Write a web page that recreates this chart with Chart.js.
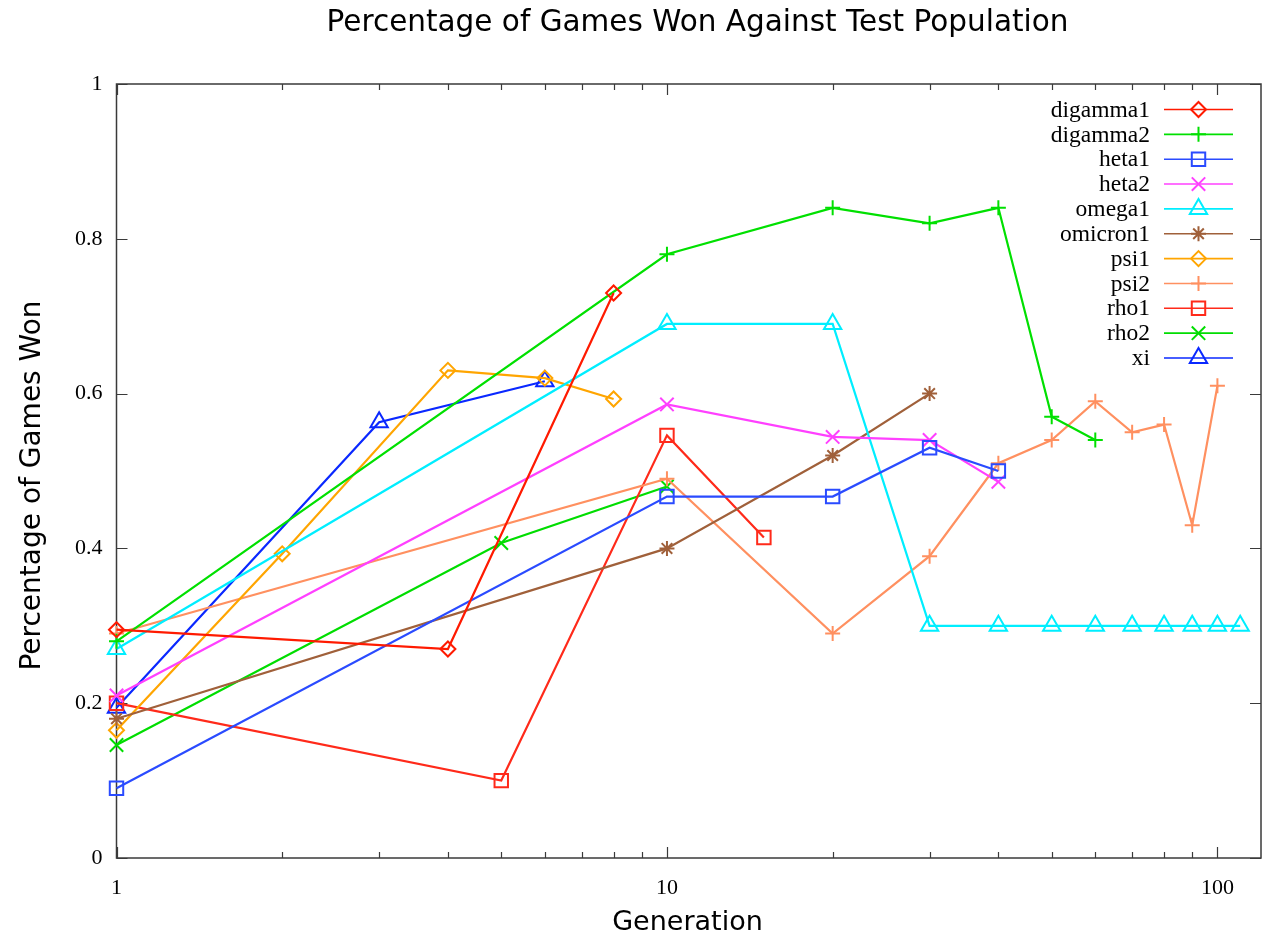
<!DOCTYPE html>
<html>
<head>
<meta charset="utf-8">
<script src="https://cdn.jsdelivr.net/npm/chart.js@4/dist/chart.umd.min.js"></script>
<style>
  html, body { margin: 0; padding: 0; background: #ffffff; }
  #wrap { width: 1267px; height: 939px; }
</style>
</head>
<body>
<div id="wrap"><canvas id="c" width="1267" height="939"></canvas></div>
<script>
// Generations at which each player was tested, and the share of games it won.
const digamma1Gen = [1, 4, 8];
const digamma1Won = [0.295, 0.27, 0.73];
const digamma2Gen = [1, 10, 20, 30, 40, 50, 60];
const digamma2Won = [0.28, 0.78, 0.84, 0.82, 0.84, 0.57, 0.54];
const heta1Gen = [1, 10, 20, 30, 40];
const heta1Won = [0.09, 0.467, 0.467, 0.53, 0.50];
const heta2Gen = [1, 10, 20, 30, 40];
const heta2Won = [0.21, 0.586, 0.544, 0.54, 0.486];
const omega1Gen = [1, 10, 20, 30, 40, 50, 60, 70, 80, 90, 100, 110];
const omega1Won = [0.27, 0.69, 0.69, 0.30, 0.30, 0.30, 0.30, 0.30, 0.30, 0.30, 0.30, 0.30];
const omicron1Gen = [1, 10, 20, 30];
const omicron1Won = [0.18, 0.40, 0.52, 0.60];
const psi1Gen = [1, 2, 4, 6, 8];
const psi1Won = [0.165, 0.393, 0.63, 0.62, 0.593];
const psi2Gen = [1, 10, 20, 30, 40, 50, 60, 70, 80, 90, 100];
const psi2Won = [0.29, 0.49, 0.29, 0.39, 0.51, 0.54, 0.59, 0.55, 0.56, 0.43, 0.61];
const rho1Gen = [1, 5, 10, 15];
const rho1Won = [0.20, 0.10, 0.546, 0.414];
const rho2Gen = [1, 5, 10];
const rho2Won = [0.146, 0.407, 0.48];
const xiGen = [1, 3, 6];
const xiWon = [0.194, 0.563, 0.616];

// Axis ticks
const xMajorTicks = [1, 10, 100];
const xTickValues = [1, 2, 3, 4, 5, 6, 7, 8, 9, 10, 20, 30, 40, 50, 60, 70, 80, 90, 100];
const yTickValues = [0, 0.2, 0.4, 0.6, 0.8, 1];
const yTickLabels = ['0', '0.2', '0.4', '0.6', '0.8', '1'];

const chartTitle = 'Percentage of Games Won Against Test Population';
const xTitle = 'Generation';
const yTitle = 'Percentage of Games Won';

function pts(gen, won) {
  return gen.map((g, i) => ({ x: g, y: won[i] }));
}

function series(label, gen, won, color, style, radius) {
  return {
    label: label,
    data: pts(gen, won),
    borderColor: color,
    backgroundColor: color,
    borderWidth: 2.2,
    pointStyle: style,
    pointRadius: radius,
    pointBorderWidth: 2,
    pointBorderColor: color,
    pointBackgroundColor: 'rgba(0,0,0,0)',
    tension: 0,
    clip: false
  };
}

const datasets = [
  series('digamma1', digamma1Gen, digamma1Won, '#ff1a00', 'rectRot', 7.5),
  series('digamma2', digamma2Gen, digamma2Won, '#00e000', 'cross', 7.5),
  series('heta1', heta1Gen, heta1Won, '#2a4bff', 'rect', 9.5),
  series('heta2', heta2Gen, heta2Won, '#ff40ff', 'crossRot', 9.5),
  series('omega1', omega1Gen, omega1Won, '#00eeff', 'triangle', 10),
  series('omicron1', omicron1Gen, omicron1Won, '#a0603a', 'star', 7.5),
  series('psi1', psi1Gen, psi1Won, '#ffa500', 'rectRot', 7.5),
  series('psi2', psi2Gen, psi2Won, '#ff9060', 'cross', 7.5),
  series('rho1', rho1Gen, rho1Won, '#ff2a1a', 'rect', 9.5),
  series('rho2', rho2Gen, rho2Won, '#00dd00', 'crossRot', 9.5),
  series('xi', xiGen, xiWon, '#0a28ff', 'triangle', 10)
];

const FRAME = '#3a3a3a';

// Border box plus inward tick marks on all four sides
const framePlugin = {
  id: 'frameTicks',
  beforeDatasetsDraw(chart) {
    const { ctx, chartArea: a, scales } = chart;
    ctx.save();
    ctx.strokeStyle = FRAME;
    ctx.lineWidth = 1.5;
    ctx.strokeRect(a.left, a.top, a.right - a.left, a.bottom - a.top);
    ctx.lineWidth = 1.2;
    ctx.beginPath();
    scales.x.ticks.forEach(t => {
      const px = Math.round(scales.x.getPixelForValue(t.value)) + 0.5;
      const len = xMajorTicks.includes(t.value) ? 11 : 6;
      ctx.moveTo(px, a.bottom); ctx.lineTo(px, a.bottom - len);
      ctx.moveTo(px, a.top); ctx.lineTo(px, a.top + len);
    });
    scales.y.ticks.forEach(t => {
      const py = Math.round(scales.y.getPixelForValue(t.value)) + 0.5;
      ctx.moveTo(a.left, py); ctx.lineTo(a.left + 11, py);
      ctx.moveTo(a.right, py); ctx.lineTo(a.right - 11, py);
    });
    ctx.stroke();
    ctx.restore();
  }
};

// Titles and the key in the upper right corner
const decorPlugin = {
  id: 'decor',
  afterDraw(chart) {
    const { ctx } = chart;
    ctx.save();
    ctx.fillStyle = '#000';
    ctx.textBaseline = 'alphabetic';
    ctx.textAlign = 'center';
    ctx.font = '29.5px "DejaVu Sans"';
    ctx.fillText(chartTitle, 697.5, 31);
    ctx.font = '27px "DejaVu Sans"';
    ctx.fillText(xTitle, 687.5, 930);
    ctx.save();
    ctx.translate(39.5, 485.5);
    ctx.rotate(-Math.PI / 2);
    ctx.font = '28px "DejaVu Sans"';
    ctx.fillText(yTitle, 0, 0);
    ctx.restore();

    // key
    ctx.font = '23.5px "Liberation Serif"';
    ctx.textAlign = 'right';
    ctx.textBaseline = 'middle';
    chart.data.datasets.forEach((ds, i) => {
      const y = 109.5 + i * 24.85;
      ctx.fillStyle = '#000';
      ctx.fillText(ds.label, 1150, y + 1);
      ctx.strokeStyle = ds.borderColor;
      ctx.lineWidth = 1.6;
      ctx.beginPath();
      ctx.moveTo(1164, y);
      ctx.lineTo(1233, y);
      ctx.stroke();
      ctx.lineWidth = ds.pointBorderWidth;
      ctx.fillStyle = 'rgba(0,0,0,0)';
      Chart.helpers.drawPoint(ctx, {
        pointStyle: ds.pointStyle,
        rotation: 0,
        radius: ds.pointRadius,
        borderWidth: ds.pointBorderWidth
      }, 1198.5, y);
    });
    ctx.restore();
  }
};

new Chart(document.getElementById('c'), {
  type: 'line',
  data: { datasets: datasets },
  options: {
    responsive: false,
    animation: false,
    devicePixelRatio: 1,
    layout: { autoPadding: false, padding: { top: 84, right: 6, bottom: 0, left: 0 } },
    plugins: {
      legend: { display: false },
      title: { display: false },
      tooltip: { enabled: false }
    },
    scales: {
      x: {
        type: 'logarithmic',
        position: 'bottom',
        min: 1,
        max: 120,
        afterBuildTicks: s => { s.ticks = xTickValues.map(v => ({ value: v })); },
        afterFit: s => { s.height = 81; s.paddingLeft = 0; s.paddingRight = 0; },
        grid: { display: false, drawTicks: false },
        border: { display: false },
        ticks: {
          autoSkip: false,
          maxRotation: 0,
          padding: 17,
          color: '#000',
          font: { family: '"Liberation Serif"', size: 22 },
          callback: v => (xMajorTicks.includes(v) ? String(v) : '')
        }
      },
      y: {
        type: 'linear',
        min: 0,
        max: 1,
        afterBuildTicks: s => { s.ticks = yTickValues.map(v => ({ value: v })); },
        afterFit: s => { s.width = 116.5; s.paddingTop = 0; s.paddingBottom = 0; },
        grid: { display: false, drawTicks: false },
        border: { display: false },
        ticks: {
          padding: 14,
          color: '#000',
          font: { family: '"Liberation Serif"', size: 22 },
          callback: (v, i) => yTickLabels[i]
        }
      }
    }
  },
  plugins: [framePlugin, decorPlugin]
});
</script>
</body>
</html>
